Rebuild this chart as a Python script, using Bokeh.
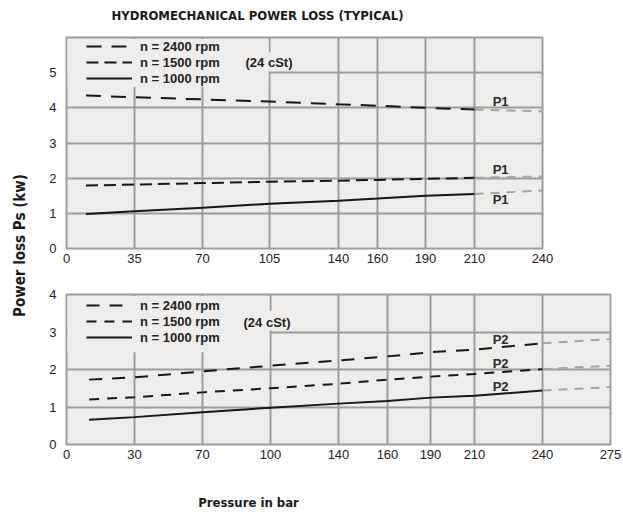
import numpy as np
from bokeh.plotting import figure
from bokeh.models import Range1d, FixedTicker, Label, Legend, LegendItem, BoxAnnotation
from bokeh.layouts import row, column
from bokeh.embed import file_html
from bokeh.resources import INLINE

# ---------------- data ----------------
# top chart (P1)
top_ticks = [0, 35, 70, 105, 140, 160, 190, 210, 240]
top_tick_pos = [0, 68, 136, 203, 272, 311, 359, 408, 476]   # axis layout (non-linear scale of the original)
top_y_ticks = [0, 1, 2, 3, 4, 5]

top_p = [10, 35, 70, 105, 140, 160, 190, 210]
top_2400 = [4.35, 4.30, 4.24, 4.18, 4.10, 4.06, 4.00, 3.95]
top_1500 = [1.79, 1.82, 1.86, 1.90, 1.93, 1.95, 1.98, 2.01]
top_1000 = [0.98, 1.06, 1.16, 1.27, 1.36, 1.42, 1.50, 1.55]
top_ext_p = [210, 240]
top_2400_ext = [3.95, 3.90]
top_1500_ext = [2.01, 2.05]
top_1000_ext = [1.55, 1.65]
top_tag = "P1"
top_tag_y = [4.17, 2.26, 1.40]

# bottom chart (P2)
bot_ticks = [0, 30, 70, 100, 140, 160, 190, 210, 240, 275]
bot_tick_pos = [0, 68, 136, 204, 272, 321, 364, 408, 476, 544]
bot_y_ticks = [0, 1, 2, 3, 4]

bot_p = [10, 30, 70, 100, 140, 160, 190, 210, 240]
bot_2400 = [1.73, 1.79, 1.95, 2.10, 2.24, 2.35, 2.46, 2.53, 2.70]
bot_1500 = [1.20, 1.26, 1.39, 1.50, 1.62, 1.73, 1.81, 1.88, 2.01]
bot_1000 = [0.66, 0.73, 0.86, 0.98, 1.09, 1.16, 1.25, 1.30, 1.44]
bot_ext_p = [240, 275]
bot_2400_ext = [2.70, 2.81]
bot_1500_ext = [2.01, 2.10]
bot_1000_ext = [1.44, 1.53]
bot_tag = "P2"
bot_tag_y = [2.80, 2.17, 1.56]

tag_pressure = 218
series_labels = ["n = 2400 rpm", "n = 1500 rpm", "n = 1000 rpm"]
viscosity_note = "(24 cSt)"
title_text = "HYDROMECHANICAL POWER LOSS (TYPICAL)"
x_title = "Pressure in bar"
y_title = "Power loss Ps (kw)"

# ---------------- style ----------------
BG = "#eeedeb"
GRID = "#9c9c9c"
INK = "#161616"
GREY = "#a3a3a3"
FONT = "Liberation Sans"
COND = "DejaVu Sans Condensed, Roboto, sans-serif"


def text_fig(width, height, text, x, y, size, angle=0.0):
    f = figure(width=width, height=height, output_backend="svg", toolbar_location=None,
               x_axis_type=None, y_axis_type=None, min_border=0, frame_align=False,
               x_range=Range1d(0, 1), y_range=Range1d(0, 1))
    f.outline_line_color = None
    f.grid.visible = False
    f.add_layout(Label(x=x, y=y, x_units="screen", y_units="screen", text=text,
                       text_font=COND, text_font_style="bold", text_font_size=size,
                       text_color="#1a1a1a", angle=angle,
                       text_align="center", text_baseline="middle"))
    return f


def make_panel(ticks, tick_pos, y_ticks, y_max, p_main, s2400, s1500, s1000,
               p_ext, e2400, e1500, e1000, tag, tag_y,
               width, height, borders, dashes, legend_loc, note_xy, masks):
    def X(p):
        return np.interp(p, ticks, tick_pos)

    bl, br, bt, bb = borders
    fig = figure(width=width, height=height,
                 x_range=Range1d(0, tick_pos[-1]), y_range=Range1d(0, y_max),
                 output_backend="svg", toolbar_location=None, frame_align=False,
                 min_border_left=bl, min_border_right=br,
                 min_border_top=bt, min_border_bottom=bb,
                 background_fill_color=BG, border_fill_color="white")
    fig.outline_line_color = GRID
    fig.outline_line_width = 2

    overrides = {int(tp): str(t) for t, tp in zip(ticks, tick_pos)}
    fig.xaxis.ticker = FixedTicker(ticks=list(tick_pos))
    fig.xaxis.major_label_overrides = overrides
    fig.yaxis.ticker = FixedTicker(ticks=list(y_ticks))
    for ax in (fig.xaxis[0], fig.yaxis[0]):
        ax.axis_line_color = None
        ax.major_tick_line_color = None
        ax.minor_tick_line_color = None
        ax.major_tick_out = 0
        ax.major_tick_in = 0
        ax.minor_tick_out = 0
        ax.major_label_text_font = FONT
        ax.major_label_text_font_size = "13px"
        ax.major_label_text_color = "#222222"
    fig.xaxis.major_label_standoff = 5
    fig.yaxis.major_label_standoff = 10

    fig.xgrid.grid_line_color = GRID
    fig.xgrid.grid_line_width = 2
    fig.ygrid.grid_line_color = GRID
    fig.ygrid.grid_line_width = 2

    # background patches behind the legend block (grid interrupted there)
    for (l, r, b, t) in masks:
        fig.add_layout(BoxAnnotation(left=l, right=r, bottom=b, top=t,
                                     fill_color=BG, fill_alpha=1.0,
                                     line_color=None, level="underlay"))

    xm = X(p_main)
    xe = X(p_ext)
    for ys in (e2400, e1500, e1000):
        fig.line(xe, ys, line_color=GREY, line_width=2, line_dash="9 7")
    r1 = fig.line(xm, s2400, line_color=INK, line_width=2, line_dash=dashes[0])
    r2 = fig.line(xm, s1500, line_color=INK, line_width=2, line_dash=dashes[1])
    r3 = fig.line(xm, s1000, line_color=INK, line_width=2)

    for ty in tag_y:
        fig.add_layout(Label(x=float(X(tag_pressure)), y=ty, text=tag,
                             text_font=FONT, text_font_style="bold",
                             text_font_size="13px", text_color="#2a2a2a",
                             text_baseline="middle", text_align="left"))

    legend = Legend(items=[LegendItem(label=series_labels[0], renderers=[r1]),
                           LegendItem(label=series_labels[1], renderers=[r2]),
                           LegendItem(label=series_labels[2], renderers=[r3])],
                    location=legend_loc)
    legend.background_fill_alpha = 0
    legend.border_line_color = None
    legend.padding = 0
    legend.margin = 0
    legend.spacing = 0
    legend.glyph_width = 46
    legend.glyph_height = 16
    legend.label_height = 16
    legend.label_standoff = 8
    legend.label_text_font = FONT
    legend.label_text_font_style = "bold"
    legend.label_text_font_size = "13px"
    legend.label_text_color = "#222222"
    fig.add_layout(legend)

    # screen offsets are relative to the frame's bottom-left corner
    fig.add_layout(Label(x=note_xy[0], y=note_xy[1], x_units="screen", y_units="screen",
                         text=viscosity_note, text_font=FONT, text_font_style="bold",
                         text_font_size="13px", text_color="#222222",
                         text_baseline="middle", text_align="left"))
    return fig


title_fig = text_fig(585, 30, title_text, 219, 15, "13px")

top = make_panel(top_ticks, top_tick_pos, top_y_ticks, 6, top_p, top_2400, top_1500, top_1000,
                 top_ext_p, top_2400_ext, top_1500_ext, top_1000_ext, top_tag, top_tag_y,
                 width=585, height=253, borders=(28, 81, 7, 35),
                 dashes=("15 10", "12 6"), legend_loc=(20, 162), note_xy=(179, 186),
                 masks=[(1, 202, 4.6, 5.96), (199, 207, 5.04, 5.58)])

bottom = make_panel(bot_ticks, bot_tick_pos, bot_y_ticks, 4, bot_p, bot_2400, bot_1500, bot_1000,
                    bot_ext_p, bot_2400_ext, bot_1500_ext, bot_1000_ext, bot_tag, bot_tag_y,
                    width=585, height=195, borders=(28, 13, 11, 34),
                    dashes=("13 10", "10 8"), legend_loc=(20, 99), note_xy=(177, 122),
                    masks=[(1, 203, 2.46, 3.96), (200, 208, 3.04, 3.57)])

xlabel_fig = text_fig(585, 45, x_title, 210, 21, "13px")
side = text_fig(38, 523, y_title, 19, 278, "15px", angle=np.pi / 2)

layout = row(side, column(title_fig, top, bottom, xlabel_fig, spacing=0), spacing=0)
open("out.html", "w").write(file_html(layout, INLINE))
